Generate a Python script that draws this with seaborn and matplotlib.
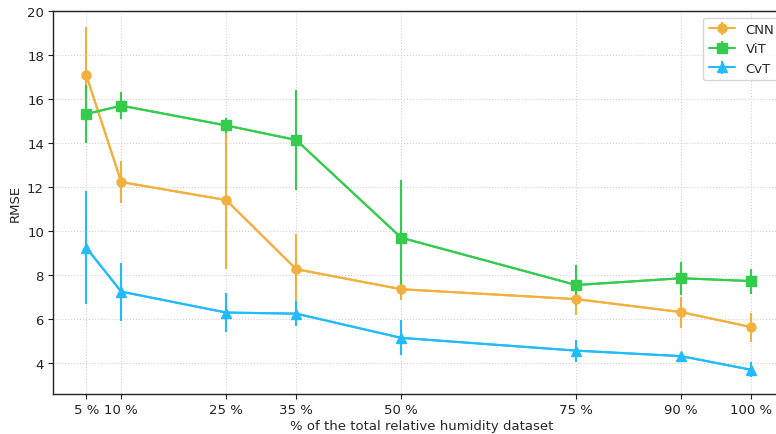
import numpy as np
import pandas as pd
import matplotlib
matplotlib.use("Agg")
import matplotlib.pyplot as plt
import seaborn as sns

# Share of the relative humidity dataset used for training (%)
fractions = [5, 10, 25, 35, 50, 75, 90, 100]
tick_labels = ["5 %", "10 %", "25 %", "35 %", "50 %", "75 %", "90 %", "100 %"]

# Mean RMSE and standard deviation per model
cnn_mean = [17.09, 12.23, 11.41, 8.27, 7.36, 6.91, 6.32, 5.64]
cnn_std = [2.20, 0.97, 3.14, 1.60, 0.50, 0.70, 0.70, 0.66]
vit_mean = [15.32, 15.70, 14.80, 14.14, 9.70, 7.55, 7.86, 7.73]
vit_std = [1.32, 0.62, 0.35, 2.27, 2.60, 0.90, 0.75, 0.57]
cvt_mean = [9.25, 7.25, 6.30, 6.25, 5.15, 4.57, 4.32, 3.70]
cvt_std = [2.55, 1.32, 0.87, 0.57, 0.80, 0.50, 0.10, 0.35]

models = ["CNN", "ViT", "CvT"]
means = {"CNN": cnn_mean, "ViT": vit_mean, "CvT": cvt_mean}
stds = {"CNN": cnn_std, "ViT": vit_std, "CvT": cvt_std}
colors = {"CNN": "#F2B03E", "ViT": "#35CC4E", "CvT": "#22BBFC"}
markers = {"CNN": "o", "ViT": "s", "CvT": "^"}

df = pd.concat(
    [pd.DataFrame({"fraction": fractions, "rmse": means[m], "std": stds[m], "model": m})
     for m in models],
    ignore_index=True,
)

sns.set_style("ticks")
plt.rcParams["font.family"] = ["DejaVu Sans"]

fig = plt.figure(figsize=(7.76, 4.35), dpi=100)
ax = fig.add_axes([53 / 776, 40 / 435, 737 / 776, 383 / 435])

# connecting lines per model
sns.lineplot(data=df, x="fraction", y="rmse", hue="model", palette=colors,
             legend=False, linewidth=1.5, ax=ax, zorder=3)

# markers with standard-deviation bars
for m in models:
    sub = df[df["model"] == m]
    ax.errorbar(sub["fraction"], sub["rmse"], yerr=sub["std"], color=colors[m],
                marker=markers[m], markersize=6.5, linewidth=1.5, elinewidth=1.5,
                capsize=0, label=m, zorder=3)

ax.set_xticks(fractions)
ax.set_xticklabels(tick_labels)
ax.set_xlim(0.25, 105.55)
ax.set_ylim(2.6, 20)
ax.set_yticks([4, 6, 8, 10, 12, 14, 16, 18, 20])
ax.grid(True, linestyle=":", color="#d0d0d0", linewidth=0.8)
ax.set_axisbelow(True)
ax.tick_params(labelsize=9.5, colors="#222222", direction="out", length=3.5, pad=3)
for s in ax.spines.values():
    s.set_color("#222222")
    s.set_linewidth(1.0)
ax.spines["right"].set_visible(False)

ax.set_xlabel("% of the total relative humidity dataset", fontsize=9.5, labelpad=2)
ax.set_ylabel("RMSE", fontsize=9.5, labelpad=4)
ax.legend(loc="upper right", fontsize=9.5, frameon=True, bbox_to_anchor=(0.995, 1.0))

fig.savefig("out.png", dpi=100)
